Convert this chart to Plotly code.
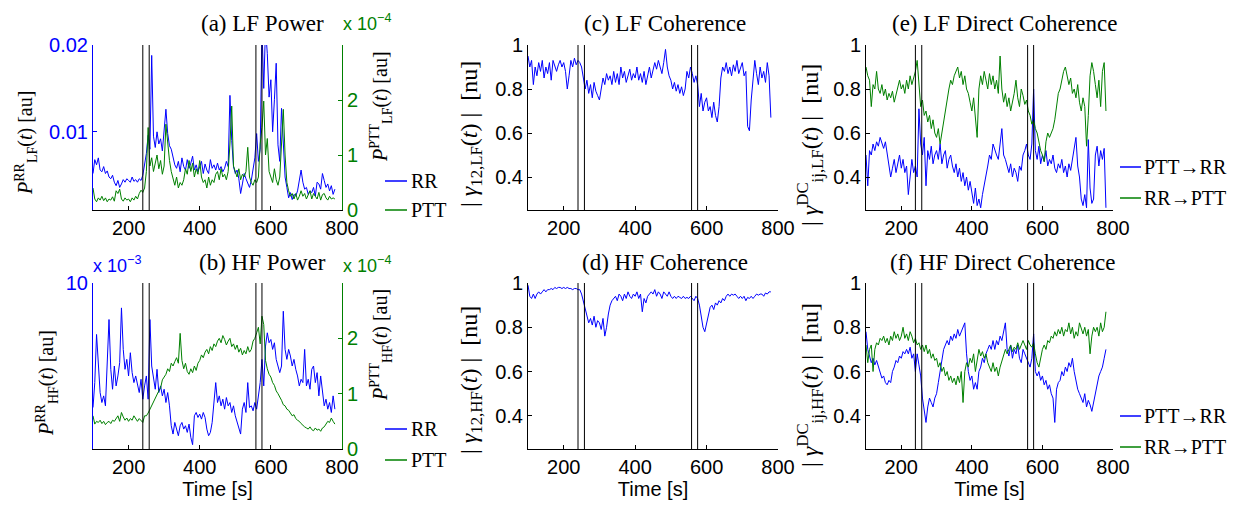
import plotly.graph_objects as go

W, H = 1243, 510
PAGE_OFFSET = 8  # default page margin in front of the figure (px)

# ---------------- data ----------------
time_s = list(range(100, 781, 5))
event_times = [240, 258, 558, 575]

# (a) LF power, RR in 1e-3 au, PTT in 1e-4 au
lf_power_rr_e3 = [
    5.2, 6.8, 6.2, 7.0, 5.6, 5.4, 6.0, 5.2, 5.5, 4.8,
    4.6, 5.0, 4.2, 3.8, 4.4, 3.6, 4.0, 4.5, 4.2, 4.6,
    4.4, 4.2, 4.8, 4.3, 4.5, 4.2, 4.6, 4.4, 5.0, 6.4,
    7.5, 9.6, 8.0, 18.8, 9.5, 8.2, 10.0, 8.6, 9.2, 7.8,
    10.5, 12.6, 9.8, 8.4, 8.0, 7.0, 6.2, 5.8, 6.6, 5.4,
    7.0, 6.0, 5.6, 6.8, 5.8, 6.4, 7.2, 5.6, 6.2, 5.4,
    6.0, 6.6, 5.2, 6.3, 5.6, 5.2, 6.8, 5.8, 6.2, 5.6,
    6.4, 5.6, 6.0, 5.4, 5.8, 6.6, 6.0, 14.2, 9.0, 6.0,
    5.2, 5.6, 4.6, 2.9, 4.0, 5.2, 4.6, 4.0, 3.6, 4.4,
    5.6, 7.0, 9.8, 6.6, 8.0, 22.0, 15.0, 22.0, 19.0, 14.0,
    16.0, 10.0, 13.7, 17.9, 8.5, 6.6, 12.7, 9.0, 4.8, 3.6,
    2.4, 3.0, 2.2, 2.8, 2.6, 3.2, 4.6, 5.6, 4.2, 3.4,
    3.6, 2.8, 3.2, 3.0, 3.6, 2.6, 4.2, 4.0, 3.4, 5.2,
    4.4, 3.6, 4.0, 3.2, 3.8, 2.8, 3.4]
lf_power_ptt_e4 = [
    0.4, 0.2, 0.15, 0.22, 0.18, 0.25, 0.17, 0.22, 0.15, 0.2,
    0.18, 0.24, 0.16, 0.35, 0.3, 0.38, 0.2, 0.16, 0.22, 0.18,
    0.2, 0.15, 0.22, 0.18, 0.25, 0.2, 0.3, 0.36, 0.32, 0.4,
    0.7, 1.5, 0.8, 0.95, 0.7, 0.85, 1.0, 0.75, 0.9, 0.65,
    0.8, 1.56, 1.2, 0.9, 0.7, 0.55, 0.45, 0.6, 0.4, 0.5,
    0.45, 0.55, 0.75, 0.65, 0.9, 0.7, 0.85, 0.6, 0.75, 0.65,
    0.9, 0.6, 0.5, 0.55, 0.4, 0.6, 0.45, 0.55, 0.5, 0.65,
    0.7, 0.55, 0.75, 0.6, 0.65, 0.55, 0.7, 1.2, 1.89, 0.8,
    0.7, 0.6, 0.75, 0.55, 0.65, 0.6, 0.7, 1.14, 0.6, 0.5,
    0.45, 0.55, 0.5, 0.6, 1.2, 1.5, 1.98, 1.0, 1.3, 0.7,
    0.6, 0.5, 0.75, 0.55, 0.45, 0.6, 1.2, 1.83, 1.0, 0.5,
    0.35, 0.25, 0.3, 0.2, 0.3, 0.18, 0.25, 0.35, 0.25, 0.3,
    0.2, 0.28, 0.35, 0.2, 0.3, 0.25, 0.2, 0.32, 0.18, 0.28,
    0.3, 0.22, 0.18, 0.25, 0.2, 0.22, 0.2]

# (b) HF power, RR in 1e-3 au, PTT in 1e-4 au
hf_power_rr_e3 = [
    2.5, 4.0, 6.9, 5.0, 3.4, 2.8, 3.2, 2.6, 5.6, 7.8,
    4.8, 3.6, 5.0, 3.8, 4.4, 5.2, 8.5, 6.0, 4.8, 5.4,
    4.4, 5.8, 4.6, 4.0, 4.4, 3.8, 3.4, 4.2, 3.0, 3.8,
    4.4, 3.0, 7.8, 5.0, 4.4, 3.6, 4.8, 3.4, 3.8, 3.2,
    3.6, 2.8, 3.4, 2.6, 1.4, 0.9, 1.6, 1.2, 0.8, 1.4,
    1.6, 1.2, 1.4, 1.0, 1.5, 0.7, 0.26, 2.0, 2.2, 1.9,
    2.1, 1.8, 2.2, 1.9, 1.2, 0.8, 1.0, 1.6, 2.6, 4.0,
    2.8, 3.2, 2.6, 3.0, 2.4, 3.1, 2.6, 2.8, 2.2, 2.6,
    2.0, 1.6, 1.2, 0.9, 2.4, 2.8, 2.2, 4.0, 2.5, 2.6,
    2.3, 2.8, 2.4, 3.2, 4.0, 5.4, 3.8, 6.2, 7.0, 6.4,
    6.6, 6.0, 6.4, 5.4, 5.0, 4.6, 5.0, 8.3, 6.0, 5.4,
    6.0, 5.6, 5.0, 5.4, 4.8, 4.4, 3.8, 4.2, 4.0, 6.0,
    3.8, 4.2, 3.6, 4.8, 5.0, 4.0, 4.6, 3.2, 4.4, 3.6,
    2.6, 3.0, 2.4, 2.8, 2.2, 3.2, 2.4]
hf_power_ptt_e4 = [
    0.6, 0.45, 0.5, 0.48, 0.52, 0.46, 0.5, 0.44, 0.48, 0.5,
    0.46, 0.52, 0.5, 0.56, 0.6, 0.5, 0.66, 0.58, 0.52, 0.56,
    0.5, 0.55, 0.52, 0.6, 0.56, 0.5, 0.55, 0.52, 0.48, 0.6,
    0.6, 0.65, 0.72, 0.8, 0.85, 0.92, 0.98, 1.05, 1.1, 1.25,
    1.3, 1.35, 1.45, 1.4, 1.55, 1.5, 1.58, 1.65, 1.55, 2.09,
    1.6, 1.45, 1.55, 1.4, 1.35, 1.45, 1.38, 1.5, 1.42, 1.55,
    1.6, 1.7, 1.65, 1.75, 1.8, 1.72, 1.85, 1.78, 1.9, 1.85,
    1.95, 2.0, 1.92, 2.05, 1.98, 1.88, 1.95, 2.0, 1.85, 1.9,
    1.8, 1.88, 1.75, 1.82, 1.7, 1.78, 1.72, 1.85, 1.75, 1.8,
    1.95, 2.0, 2.1, 2.2, 1.9, 2.4, 2.25, 1.6, 1.45, 1.35,
    1.3, 1.2, 1.15, 1.05, 1.0, 0.95, 0.88, 0.8, 0.78, 0.72,
    0.7, 0.65, 0.6, 0.62, 0.55, 0.52, 0.5, 0.46, 0.42, 0.4,
    0.38, 0.36, 0.4, 0.35, 0.33, 0.38, 0.34, 0.36, 0.32, 0.38,
    0.4, 0.45, 0.5, 0.48, 0.56, 0.5, 0.45]

# (c) LF coherence
lf_coherence = [
    0.95, 0.9, 0.93, 0.82, 0.9, 0.86, 0.92, 0.88, 0.93, 0.85,
    0.9, 0.87, 0.92, 0.84, 0.93, 0.9, 0.88, 0.91, 0.93, 0.9,
    0.92, 0.88, 0.8, 0.86, 0.93, 0.9, 0.94, 0.91, 0.93, 0.92,
    0.9, 0.85, 0.8, 0.84, 0.78, 0.82, 0.76, 0.83, 0.79, 0.77,
    0.75, 0.8, 0.85, 0.82, 0.87, 0.84, 0.86, 0.82, 0.88, 0.83,
    0.87, 0.82, 0.9, 0.85, 0.88, 0.83, 0.86, 0.89, 0.84, 0.87,
    0.85, 0.9, 0.84, 0.87, 0.83, 0.88, 0.82, 0.86, 0.9, 0.85,
    0.88, 0.92, 0.89, 0.93, 0.9, 0.87, 0.92, 0.98, 0.9, 0.86,
    0.84, 0.8, 0.83, 0.79, 0.82, 0.78, 0.81, 0.77, 0.8, 0.88,
    0.85, 0.9, 0.87, 0.83, 0.86, 0.82, 0.72, 0.78, 0.7, 0.74,
    0.76, 0.7, 0.72, 0.67, 0.74, 0.68, 0.65, 0.72, 0.85, 0.9,
    0.88, 0.92, 0.87, 0.9, 0.86, 0.91, 0.88, 0.93, 0.87, 0.9,
    0.92, 0.86, 0.88, 0.63, 0.61, 0.75, 0.86, 0.93, 0.87, 0.82,
    0.9, 0.85, 0.88, 0.83, 0.92, 0.86, 0.67]

# (d) HF coherence
hf_coherence = [
    0.99, 0.94, 0.93, 0.95, 0.93, 0.95, 0.96, 0.95, 0.96, 0.97,
    0.96, 0.97, 0.97, 0.975, 0.97, 0.98, 0.975, 0.98, 0.98, 0.975,
    0.98, 0.975, 0.98, 0.975, 0.975, 0.97, 0.975, 0.975, 0.97, 0.97,
    0.95, 0.92, 0.89, 0.86, 0.82, 0.84, 0.81, 0.85, 0.8, 0.83,
    0.82, 0.79, 0.84, 0.76, 0.8, 0.86, 0.9, 0.92, 0.93, 0.94,
    0.92, 0.95, 0.94, 0.92, 0.95, 0.93, 0.96, 0.94, 0.93, 0.95,
    0.94, 0.96, 0.93, 0.95, 0.87, 0.93, 0.91, 0.94, 0.95, 0.96,
    0.95, 0.97, 0.94, 0.96, 0.95, 0.93, 0.96, 0.95, 0.94, 0.96,
    0.94, 0.93, 0.94, 0.93, 0.94, 0.935, 0.93, 0.94, 0.93, 0.935,
    0.93, 0.94, 0.93, 0.92, 0.94, 0.93, 0.9, 0.85, 0.8, 0.78,
    0.82, 0.86, 0.89, 0.9, 0.88, 0.91, 0.9, 0.92, 0.91, 0.93,
    0.92, 0.94, 0.95, 0.94, 0.95, 0.945, 0.95, 0.94, 0.93, 0.94,
    0.93, 0.94, 0.92, 0.935, 0.93, 0.94, 0.93, 0.94, 0.95, 0.945,
    0.95, 0.95, 0.94, 0.955, 0.95, 0.96, 0.96]

# (e) LF direct coherence
lf_dc_ptt_to_rr = [
    0.5, 0.36, 0.52, 0.5, 0.55, 0.52, 0.56, 0.54, 0.58, 0.55,
    0.53, 0.56, 0.5, 0.46, 0.4, 0.44, 0.48, 0.42, 0.46, 0.5,
    0.44, 0.48, 0.42, 0.45, 0.32, 0.4, 0.48, 0.42, 0.45, 0.4,
    0.71, 0.55, 0.5, 0.58, 0.36, 0.52, 0.48, 0.54, 0.46, 0.5,
    0.52, 0.48, 0.55, 0.46, 0.5, 0.52, 0.44, 0.48, 0.5, 0.45,
    0.42, 0.46, 0.4, 0.44, 0.38, 0.42, 0.36, 0.4, 0.34, 0.38,
    0.32, 0.28, 0.35, 0.27, 0.3, 0.26, 0.32, 0.36, 0.4, 0.45,
    0.5, 0.48, 0.55, 0.52, 0.5, 0.48, 0.55, 0.62, 0.5, 0.48,
    0.45, 0.42, 0.46, 0.4, 0.44, 0.42, 0.38, 0.45, 0.43, 0.5,
    0.52, 0.55, 0.5, 0.48, 0.55, 0.8, 0.52, 0.48, 0.54, 0.46,
    0.5, 0.47, 0.52, 0.45, 0.48, 0.46, 0.5, 0.44, 0.42, 0.46,
    0.44, 0.48, 0.42, 0.45, 0.4, 0.46, 0.43, 0.48, 0.55, 0.58,
    0.45, 0.4, 0.3, 0.27, 0.32, 0.26, 0.57, 0.35, 0.28, 0.3,
    0.5, 0.54, 0.45, 0.52, 0.48, 0.53, 0.26]
lf_dc_rr_to_ptt = [
    0.9, 0.86, 0.84, 0.72, 0.82, 0.8, 0.88, 0.8, 0.78, 0.82,
    0.77, 0.8, 0.75, 0.78, 0.76, 0.79, 0.74, 0.77, 0.8, 0.84,
    0.8, 0.82, 0.78, 0.84, 0.8, 0.86, 0.82, 0.85, 0.88, 0.93,
    0.8, 0.72, 0.75, 0.68, 0.7, 0.65, 0.68, 0.62, 0.66, 0.6,
    0.58, 0.62, 0.55, 0.6, 0.66, 0.72, 0.76, 0.8, 0.84, 0.82,
    0.86, 0.88, 0.9, 0.85, 0.88, 0.82, 0.86, 0.8, 0.78, 0.74,
    0.7, 0.76, 0.68, 0.58, 0.8, 0.86, 0.82, 0.88, 0.84, 0.8,
    0.87, 0.82, 0.86, 0.8, 0.84, 0.78, 0.95, 0.8, 0.74, 0.78,
    0.72, 0.76, 0.7, 0.74, 0.78, 0.84, 0.76, 0.72, 0.8, 0.77,
    0.73, 0.75, 0.7, 0.68, 0.64, 0.66, 0.62, 0.6, 0.56, 0.52,
    0.5, 0.47, 0.56, 0.6, 0.58, 0.6, 0.62, 0.66, 0.72, 0.78,
    0.8, 0.84, 0.88, 0.9, 0.86, 0.82, 0.85, 0.78, 0.8, 0.76,
    0.82, 0.74, 0.7, 0.76, 0.72, 0.54, 0.68, 0.86, 0.92, 0.88,
    0.82, 0.76, 0.84, 0.72, 0.88, 0.92, 0.7]

# (f) HF direct coherence
hf_dc_ptt_to_rr = [
    0.78, 0.7, 0.67, 0.64, 0.66, 0.63, 0.65, 0.62, 0.6, 0.57,
    0.58, 0.55, 0.54, 0.56, 0.55, 0.6, 0.62, 0.65, 0.64, 0.67,
    0.66, 0.69, 0.68, 0.7, 0.68, 0.71, 0.66, 0.68, 0.6, 0.68,
    0.63, 0.58, 0.48, 0.42, 0.37, 0.44, 0.48, 0.46, 0.44, 0.48,
    0.5, 0.55, 0.6, 0.64, 0.7, 0.72, 0.74, 0.72, 0.76, 0.74,
    0.77, 0.75, 0.79, 0.76, 0.78, 0.8, 0.82, 0.68, 0.6, 0.56,
    0.58, 0.52, 0.55, 0.52, 0.6, 0.62, 0.66, 0.64, 0.68, 0.7,
    0.72, 0.7, 0.74, 0.7, 0.74, 0.72, 0.76, 0.74, 0.78, 0.82,
    0.7, 0.67, 0.72, 0.66, 0.7, 0.68, 0.72, 0.66, 0.64, 0.7,
    0.68, 0.66, 0.64, 0.62, 0.66, 0.77, 0.6, 0.58, 0.6, 0.56,
    0.58, 0.54, 0.56, 0.52, 0.54, 0.5, 0.48, 0.37, 0.52, 0.55,
    0.56, 0.6, 0.58, 0.62, 0.6, 0.64, 0.62, 0.66, 0.6, 0.56,
    0.52, 0.5, 0.48, 0.46, 0.5, 0.44, 0.47, 0.45, 0.42, 0.46,
    0.5, 0.54, 0.58, 0.6, 0.62, 0.66, 0.7]
hf_dc_rr_to_ptt = [
    0.72, 0.64, 0.7, 0.72, 0.6, 0.7, 0.73, 0.72, 0.75, 0.74,
    0.76, 0.73, 0.75, 0.72, 0.76, 0.74, 0.78, 0.75, 0.77, 0.74,
    0.76, 0.8, 0.75, 0.77, 0.74, 0.78, 0.76, 0.73, 0.75, 0.72,
    0.73, 0.7, 0.72, 0.69, 0.72, 0.68, 0.7, 0.66, 0.68, 0.65,
    0.66, 0.62, 0.64, 0.6, 0.62, 0.58, 0.6, 0.56, 0.58, 0.55,
    0.57, 0.54, 0.58, 0.55, 0.6, 0.46, 0.6, 0.64, 0.62, 0.66,
    0.64, 0.68, 0.6, 0.65, 0.7, 0.67, 0.69, 0.66, 0.68, 0.64,
    0.62, 0.6, 0.64, 0.6, 0.62, 0.58, 0.62, 0.65, 0.68, 0.7,
    0.68, 0.7, 0.72, 0.69, 0.71, 0.7, 0.73, 0.7, 0.72, 0.74,
    0.72, 0.7, 0.74, 0.72, 0.71, 0.73, 0.68, 0.64, 0.62, 0.66,
    0.7, 0.72, 0.7, 0.74, 0.73, 0.76, 0.75, 0.78, 0.76, 0.79,
    0.77, 0.8, 0.76, 0.79, 0.78, 0.82, 0.77, 0.8, 0.75, 0.78,
    0.76, 0.82, 0.79, 0.77, 0.8, 0.76, 0.79, 0.68, 0.76, 0.8,
    0.78, 0.8, 0.76, 0.82, 0.78, 0.8, 0.87]

# ---------------- styling ----------------
BLUE = "#0000FF"
GREEN = "#008000"
SANS = "Liberation Sans, Arial, Helvetica, sans-serif"
SERIF = "Liberation Serif, Times New Roman, serif"


def px_x(x):
    """screen pixel -> paper fraction"""
    return (x - PAGE_OFFSET) / W


def px_y(y):
    return 1 - (y - PAGE_OFFSET) / H


cols = [(93, 342), (528, 778), (866, 1113)]
rows = [(45, 210), (283, 449)]

fig = go.Figure()


def line(x, y, color, xa, ya, name):
    fig.add_trace(go.Scatter(
        x=x, y=y, mode="lines", line=dict(color=color, width=1),
        xaxis=xa, yaxis=ya, name=name, showlegend=False, hoverinfo="skip"))


line(time_s, lf_power_rr_e3, BLUE, "x", "y", "RR")
line(time_s, lf_power_ptt_e4, GREEN, "x", "y2", "PTT")
line(time_s, hf_power_rr_e3, BLUE, "x2", "y3", "RR")
line(time_s, hf_power_ptt_e4, GREEN, "x2", "y4", "PTT")
line(time_s, lf_coherence, BLUE, "x3", "y5", "LF coherence")
line(time_s, hf_coherence, BLUE, "x4", "y6", "HF coherence")
line(time_s, lf_dc_ptt_to_rr, BLUE, "x5", "y7", "PTT→RR")
line(time_s, lf_dc_rr_to_ptt, GREEN, "x5", "y7", "RR→PTT")
line(time_s, hf_dc_ptt_to_rr, BLUE, "x6", "y8", "PTT→RR")
line(time_s, hf_dc_rr_to_ptt, GREEN, "x6", "y8", "RR→PTT")

tickfont = dict(family=SANS, size=20, color="black")

base_axis = dict(showgrid=False, zeroline=False, showline=True, linewidth=1,
                 ticks="inside", ticklen=4, tickwidth=1, fixedrange=True,
                 automargin=False)

layout = dict(width=W, height=H, autosize=False,
              margin=dict(l=0, r=0, t=0, b=0, pad=0, autoexpand=False),
              paper_bgcolor="white", plot_bgcolor="rgba(0,0,0,0)",
              showlegend=False)

panel = {  # (col, row) -> (x axis id, y axis id)
    (0, 0): ("x", "y"), (0, 1): ("x2", "y3"),
    (1, 0): ("x3", "y5"), (1, 1): ("x4", "y6"),
    (2, 0): ("x5", "y7"), (2, 1): ("x6", "y8"),
}


def key(ax):
    return ax[0] + "axis" + ax[1:]


for (c, r), (xa, ya) in panel.items():
    x0, x1 = cols[c]
    y0, y1 = rows[r]
    layout[key(xa)] = dict(base_axis, domain=[px_x(x0), px_x(x1)], anchor=ya,
                           range=[100, 800], tickvals=[200, 400, 600, 800],
                           linecolor="black", tickcolor="black", tickfont=tickfont,
                           title=dict(text="Time [s]" if r == 1 else "",
                                      font=dict(family=SANS, size=20, color="black"),
                                      standoff=2))
    layout[key(ya)] = dict(base_axis, domain=[px_y(y1), px_y(y0)], anchor=xa)

coh_ticks = dict(range=[0.25, 1], tickvals=[0.4, 0.6, 0.8, 1],
                 ticktext=["0.4", "0.6", "0.8", "1"],
                 linecolor="black", tickcolor="black", tickfont=tickfont)

# (a)
layout["yaxis"].update(range=[1, 20], tickvals=[10, 20], ticktext=["0.01", "0.02"],
                       linecolor=BLUE, tickcolor=BLUE, tickfont=dict(tickfont, color=BLUE))
layout["yaxis2"] = dict(base_axis, overlaying="y", side="right", anchor="x",
                        range=[0, 3], tickvals=[0, 1, 2], ticktext=["0", "1", "2"],
                        linecolor=GREEN, tickcolor=GREEN, tickfont=dict(tickfont, color=GREEN))
# (b)
layout["yaxis3"].update(range=[0, 10], tickvals=[10], ticktext=["10"],
                        linecolor=BLUE, tickcolor=BLUE, tickfont=dict(tickfont, color=BLUE))
layout["yaxis4"] = dict(base_axis, overlaying="y3", side="right", anchor="x2",
                        range=[0, 3], tickvals=[0, 1, 2], ticktext=["0", "1", "2"],
                        linecolor=GREEN, tickcolor=GREEN, tickfont=dict(tickfont, color=GREEN))
for k in ["yaxis5", "yaxis6", "yaxis7", "yaxis8"]:
    layout[k].update(coh_ticks)

fig.update_layout(**layout)

shapes = []
ann = []

# event markers
for xa, ya in panel.values():
    for t in event_times:
        shapes.append(dict(type="line", xref=xa, yref=ya + " domain",
                           x0=t, x1=t, y0=0, y1=1,
                           line=dict(color="black", width=1), layer="above"))

# legends (sample line + label) for panels a, b, e, f
legend_items = [
    # (label, colour, line x0, line x1, text x, y)
    ("RR", BLUE, 385, 407, 409, 181),
    ("PTT", GREEN, 385, 407, 409, 210),
    ("RR", BLUE, 385, 407, 409, 429),
    ("PTT", GREEN, 385, 407, 409, 460),
    ("PTT→RR", BLUE, 1120, 1141, 1142, 167),
    ("RR→PTT", GREEN, 1120, 1141, 1142, 198),
    ("PTT→RR", BLUE, 1120, 1141, 1142, 416),
    ("RR→PTT", GREEN, 1120, 1141, 1142, 447),
]
for label, colour, lx0, lx1, tx, y in legend_items:
    shapes.append(dict(type="line", xref="paper", yref="paper",
                       x0=px_x(lx0), x1=px_x(lx1), y0=px_y(y), y1=px_y(y),
                       line=dict(color=colour, width=1.5)))
    ann.append(dict(text=label, x=px_x(tx), y=px_y(y), xref="paper", yref="paper",
                    xanchor="left", yanchor="middle", showarrow=False,
                    font=dict(family=SERIF, size=20, color="black")))

fig.update_layout(shapes=shapes)

# panel titles
titles = [("(a) LF Power", 262, 23), ("(b) HF Power", 262, 262),
          ("(c) LF Coherence", 665, 23), ("(d) HF Coherence", 665, 262),
          ("(e) LF Direct Coherence", 1004, 23), ("(f) HF Direct Coherence", 1002, 262)]
for text, x, y in titles:
    ann.append(dict(text=text, x=px_x(x), y=px_y(y), xref="paper", yref="paper",
                    xanchor="center", yanchor="middle", showarrow=False,
                    font=dict(family=SERIF, size=23, color="black")))

# y-axis titles (rotated)
ytitles = [
    ("<i>P</i><sup>RR</sup><sub>LF</sub>(<i>t</i>) [au]", 26, 143, 20),
    ("<i>P</i><sup>PTT</sup><sub>LF</sub>(<i>t</i>) [au]", 381, 107, 20),
    ("<i>P</i><sup>RR</sup><sub>HF</sub>(<i>t</i>) [au]", 47, 383, 20),
    ("<i>P</i><sup>PTT</sup><sub>HF</sub>(<i>t</i>) [au]", 381, 345, 20),
    ("| <i>γ</i><sub>12,LF</sub>(<i>t</i>) |  [nu]", 471, 134, 24),
    ("| <i>γ</i><sub>12,HF</sub>(<i>t</i>) |  [nu]", 471, 380, 24),
    ("| <i>γ</i><sup>DC</sup><sub>ij,LF</sub>(<i>t</i>) |  [nu]", 810, 145, 24),
    ("| <i>γ</i><sup>DC</sup><sub>ij,HF</sub>(<i>t</i>) |  [nu]", 810, 385, 24),
]
for text, x, y, s in ytitles:
    ann.append(dict(text=text, x=px_x(x), y=px_y(y), xref="paper", yref="paper",
                    xanchor="center", yanchor="middle", textangle=-90,
                    showarrow=False, font=dict(family=SERIF, size=s, color="black")))

# exponent labels
ann.append(dict(text="x 10<sup>−4</sup>", x=px_x(341), y=px_y(36), xref="paper",
                yref="paper", xanchor="left", yanchor="bottom", showarrow=False,
                font=dict(family=SANS, size=18, color=GREEN)))
ann.append(dict(text="x 10<sup>−4</sup>", x=px_x(341), y=px_y(278), xref="paper",
                yref="paper", xanchor="left", yanchor="bottom", showarrow=False,
                font=dict(family=SANS, size=18, color=GREEN)))
ann.append(dict(text="x 10<sup>−3</sup>", x=px_x(91), y=px_y(278), xref="paper",
                yref="paper", xanchor="left", yanchor="bottom", showarrow=False,
                font=dict(family=SANS, size=18, color=BLUE)))
fig.update_layout(annotations=ann)

fig.write_html("out.html")
